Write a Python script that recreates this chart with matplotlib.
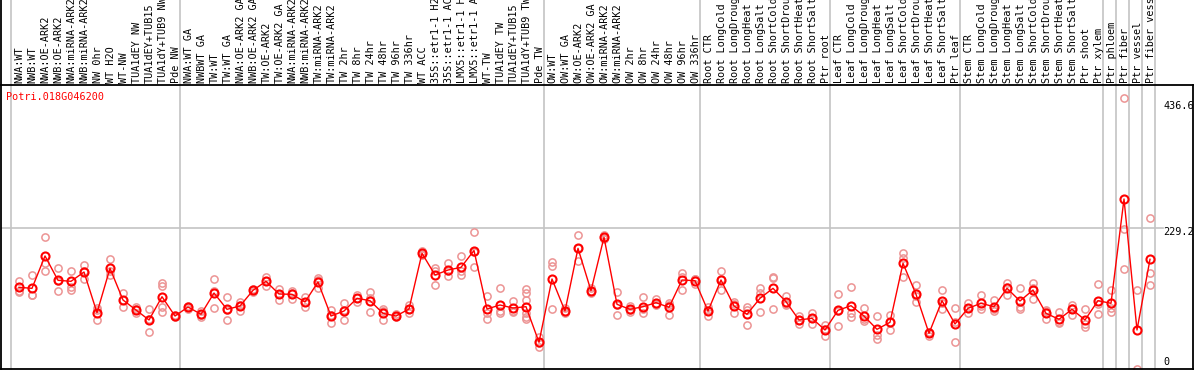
import numpy as np
import matplotlib
matplotlib.use('Agg')
import matplotlib.pyplot as plt
from matplotlib.transforms import blended_transform_factory

# gene shown in the top left corner
gene = 'Potri.018G046200'

# sample names (cut to 14 characters like in the source)
labels = [
    'NWA:WT', 'NWB:WT', 'NWA:OE-ARK2', 'NWB:OE-ARK2', 'NWA:miRNA-ARK2',
    'NWB:miRNA-ARK2', 'NW 0hr', 'WT H2O', 'WT-NW', 'TUA1dEY NW',
    'TUA1dEY+TUB15', 'TUA1dY+TUB9 NW', 'Pde NW',
    'NWA:WT GA', 'NWBWT GA', 'TW:WT', 'TW:WT GA', 'NWA:OE-ARK2 GA',
    'NWB:OE-ARK2 GA', 'TW:OE-ARK2', 'TW:OE-ARK2 GA', 'NWA:miRNA-ARK2',
    'NWB:miRNA-ARK2', 'TW:miRNA-ARK2', 'TW:miRNA-ARK2', 'TW 2hr', 'TW 8hr',
    'TW 24hr', 'TW 48hr', 'TW 96hr', 'TW 336hr', 'WT ACC', '35S::etr1-1 H2',
    '35S::etr1-1 AC', 'LMX5::etr1-1 H', 'LMX5::etr1-1 A', 'WT-TW',
    'TUA1dEY TW', 'TUA1dEY+TUB15', 'TUA1dY+TUB9 TW', 'Pde TW',
    'OW:WT', 'OW:WT GA', 'OW:OE-ARK2', 'OW:OE-ARK2 GA', 'OW:miRNA-ARK2',
    'OW:miRNA-ARK2', 'OW 2hr', 'OW 8hr', 'OW 24hr', 'OW 48hr', 'OW 96hr',
    'OW 336hr',
    'Root CTR', 'Root LongCold', 'Root LongDroug', 'Root LongHeat',
    'Root LongSalt', 'Root ShortCold', 'Root ShortDrou', 'Root ShortHeat',
    'Root ShortSalt', 'Ptr root',
    'Leaf CTR', 'Leaf LongCold', 'Leaf LongDroug', 'Leaf LongHeat',
    'Leaf LongSalt', 'Leaf ShortCold', 'Leaf ShortDrou', 'Leaf ShortHeat',
    'Leaf ShortSalt', 'Ptr leaf',
    'Stem CTR', 'Stem LongCold', 'Stem LongDroug', 'Stem LongHeat',
    'Stem LongSalt', 'Stem ShortCold', 'Stem ShortDrou', 'Stem ShortHeat',
    'Stem ShortSalt', 'Ptr shoot', 'Ptr xylem',
    'Ptr phloem', 'Ptr fiber', 'Ptr vessel', 'Ptr fiber vess',
]

# number of samples in each block between the grey separators
group_sizes = [13, 28, 12, 10, 10, 11, 1, 1, 1, 1]

# mean expression per sample
means = [
    135.1, 133.5, 185.1, 146.3, 144.7, 159.5, 94.6, 165.4, 114.9, 98.9,
    83.0, 120.1, 89.3,
    103.7, 92.1, 126.0, 100.0, 105.3, 130.3, 144.7, 124.4, 124.0, 111.7,
    143.6, 89.3, 97.3, 117.6, 113.8, 93.6, 89.3, 100.5, 189.4, 154.8,
    162.7, 167.0, 193.8, 100.5, 106.9, 102.1, 104.2, 47.4,
    148.4, 97.3, 197.3, 129.7, 214.9, 108.0, 100.0, 104.2, 110.6, 103.2,
    146.8, 145.7,
    97.3, 146.8, 105.3, 92.1, 117.6, 133.5, 112.2, 83.0, 85.7, 67.0,
    98.4, 105.8, 89.3, 68.1, 79.3, 173.4, 124.0, 61.7, 113.8, 76.6,
    101.6, 109.6, 104.2, 133.5, 113.3, 130.8, 93.6, 84.1, 100.0, 83.0,
    113.8, 109.6,
    276.0, 67.0, 179.8,
]

# single replicates per sample
reps = [
    [145.2, 129.7, 128.1], [154.3, 123.3, 122.9], [214.9, 173.4, 161.6],
    [165.4, 128.7, 144.8], [160.7, 135.1, 131.3], [170.2, 147.9, 160.4],
    [102.1, 98.9, 82.5], [179.8, 154.8, 161.6], [126.0, 104.2, 114.5],
    [103.2, 93.6, 99.9], [100.5, 63.3, 85.2],
    [142.5, 137.7, 103.2, 95.2], [90.9, 87.3, 89.7],
    [101.0, 104.0, 106.0], [97.8, 88.2, 90.3], [147.9, 101.6, 128.5],
    [119.2, 82.5, 98.3], [112.2, 97.3, 106.4], [127.0, 131.0, 133.0],
    [151.1, 137.2, 145.8], [132.9, 115.3, 125.0], [129.7, 116.5, 125.8],
    [120.1, 103.7, 111.3], [150.4, 133.5, 146.9], [98.9, 77.7, 91.3],
    [109.6, 83.0, 99.3], [123.3, 112.2, 117.3], [127.6, 95.7, 118.1],
    [100.5, 83.0, 97.3], [87.0, 89.0, 92.0], [106.9, 93.6, 101.0],
    [193.0, 186.7, 188.5], [165.4, 138.3, 160.7], [173.4, 153.2, 161.5],
    [185.5, 154.3, 161.2], [222.9, 167.0, 191.5],
    [121.7, 93.6, 84.1], [133.5, 93.6, 97.3], [113.3, 96.2, 96.8],
    [131.9, 125.6, 114.9, 93.6, 87.3, 84.1], [56.3, 39.4, 46.5],
    [175.5, 168.6, 100.5], [101.6, 94.6, 95.7], [218.1, 176.6, 197.2],
    [133.5, 125.6, 130.0], [218.6, 211.7, 214.4], [127.2, 90.5, 106.3],
    [105.3, 96.2, 98.5], [119.2, 93.6, 99.8], [116.0, 106.9, 108.9],
    [110.6, 91.4, 107.6], [157.9, 130.8, 151.7], [148.8, 140.4, 147.9],
    [104.2, 89.3, 98.4], [161.1, 130.8, 148.5], [112.2, 94.6, 109.1],
    [104.2, 98.9, 74.5], [133.5, 126.5, 95.7], [152.0, 149.5, 100.5],
    [121.3, 107.4, 107.9], [89.3, 76.1, 83.6], [94.6, 76.6, 85.9],
    [75.0, 57.9, 68.1],
    [124.0, 73.4, 97.8], [135.1, 94.6, 88.2], [101.6, 81.8, 84.5],
    [89.3, 52.2, 59.0], [90.5, 67.0, 80.4], [189.4, 181.4, 151.1],
    [138.3, 112.2, 121.5], [64.3, 57.9, 62.9], [130.8, 100.0, 110.6],
    [102.6, 47.4, 79.8],
    [109.6, 93.6, 101.6], [122.8, 100.0, 106.0], [114.9, 97.8, 99.9],
    [141.5, 122.8, 136.2], [133.5, 100.0, 103.2], [142.5, 116.0, 133.9],
    [98.9, 84.1, 97.8], [95.2, 77.7, 79.4], [107.4, 90.9, 101.7],
    [100.0, 72.3, 76.7], [140.4, 92.1, 108.9], [130.8, 96.2, 101.6],
    [436.7, 227.7, 163.9], [130.8, 5.3], [245.2, 157.5, 138.8],
]

# values printed on the right side
scale_marks = [436.6, 229.2]

plt.rcParams['font.family'] = ['DejaVu Sans Mono']
plt.rcParams['font.size'] = 7.3

fig = plt.figure(figsize=(11.94, 3.70), dpi=100)
ax = fig.add_axes([1 / 1194, 1 / 370, 1192 / 1194, 284 / 370])

x = np.arange(len(labels))
ax.set_xlim(-18 / 13, 1174 / 13)
ax.set_ylim(4.79, 457.9)

# grey separators between sample blocks (they run up through the labels)
starts = np.concatenate([[0], np.cumsum(group_sizes)])
for s in starts:
    ax.axvline(s - 0.58, ymin=0, ymax=1.31, color='#c4c4c4', lw=1.2,
               clip_on=False, zorder=1)

ax.axhline(scale_marks[1], xmin=0, xmax=1162 / 1192, color='#c4c4c4',
           lw=1.2, zorder=1)

# replicates
rx = np.concatenate([[i] * len(r) for i, r in enumerate(reps)])
ry = np.concatenate(reps)
ax.plot(rx, ry, 'o', ms=5.2, mfc='none', mec='#ec9494', mew=1.1, zorder=2)

# means
ax.plot(x, means, '-', color='red', lw=1, zorder=3)
ax.plot(x, means, 'o', ms=5.8, mfc='none', mec='red', mew=1.5, zorder=4)

# sample labels above the plot
trans = blended_transform_factory(ax.transData, ax.transAxes)
for i, lab in enumerate(labels):
    ax.text(i + 0.05, 1 + 2 / 284, lab, transform=trans, rotation=90,
            ha='center', va='bottom', color='black', clip_on=False)

# scale values on the right
for v, dy in zip(scale_marks, [-8, -4]):
    ax.annotate(f'{v}', xy=(88, v), xytext=(0, dy),
                textcoords='offset pixels', ha='left', va='center')
ax.annotate('0', xy=(88, 0), xytext=(0, 10), textcoords='offset pixels',
            ha='left', va='center', annotation_clip=False)

ax.text(5 / 1192, 1 - 12 / 284, gene, color='red', transform=ax.transAxes,
        ha='left', va='center')

# frame: black left/right/bottom, top line separates the labels
ax.set_xticks([])
ax.set_yticks([])
for side in ['left', 'right', 'bottom', 'top']:
    ax.spines[side].set_color('black')
    ax.spines[side].set_linewidth(1.3)
ax.axvline(ax.get_xlim()[0], ymin=1, ymax=1.31, color='black', lw=1.3,
           clip_on=False)

fig.savefig('out.png', dpi=100)
